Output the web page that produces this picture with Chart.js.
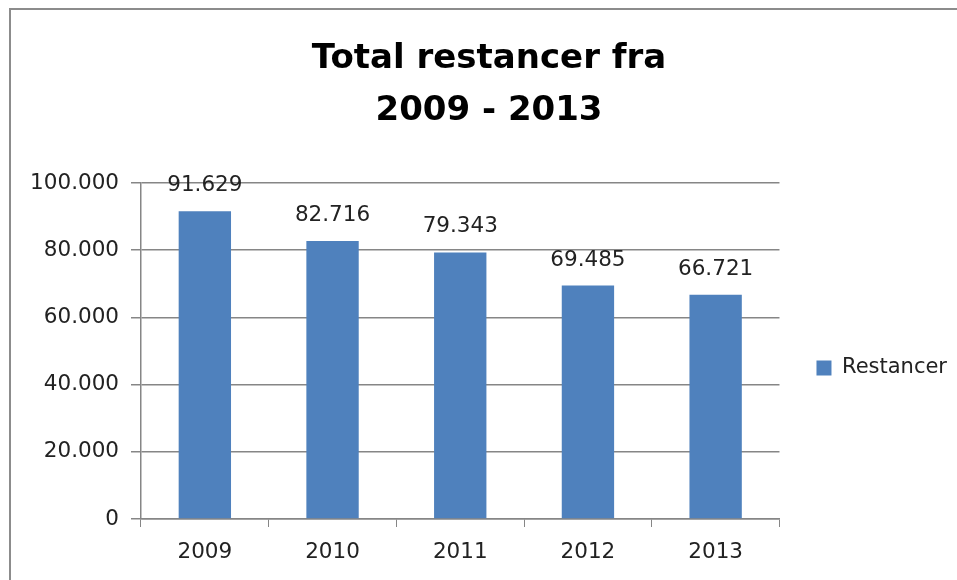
<!DOCTYPE html>
<html>
<head>
<meta charset="utf-8">
<script src="https://cdn.jsdelivr.net/npm/chart.js@4.4.1/dist/chart.umd.min.js"></script>
<style>
  html, body { margin: 0; padding: 0; background: #fff; overflow: hidden; width: 957px; height: 580px; }
  #frame {
    position: absolute; left: 9px; top: 8px; width: 1200px; height: 800px;
    border-left: 2px solid #8c8c8c; border-top: 2px solid #8c8c8c;
  }
  #wrap { position: absolute; left: 0; top: 0; width: 957px; height: 580px; }
</style>
</head>
<body>
<div id="frame"></div>
<div id="wrap"><canvas id="chart"></canvas></div>
<script>
const years = ["2009", "2010", "2011", "2012", "2013"];
const restancer = [91629, 82716, 79343, 69485, 66721];
const seriesName = "Restancer";
const titleLines = ["Total restancer fra", "2009 - 2013"];

const FONT = "'DejaVu Sans'";

// danish style thousands separator
function fmt(v) {
  return String(Math.round(v)).replace(/\B(?=(\d{3})+(?!\d))/g, ".");
}

const barLabels = {
  id: "barLabels",
  afterDatasetsDraw(chart) {
    const ctx = chart.ctx;
    ctx.save();
    ctx.font = "21.5px " + FONT;
    ctx.fillStyle = "#222";
    ctx.textAlign = "center";
    ctx.textBaseline = "alphabetic";
    chart.getDatasetMeta(0).data.forEach((bar, i) => {
      ctx.fillText(fmt(restancer[i]), bar.x, bar.y - 20);
    });
    ctx.restore();
  }
};

new Chart(document.getElementById("chart"), {
  type: "bar",
  data: {
    labels: years,
    datasets: [{
      label: seriesName,
      data: restancer,
      backgroundColor: "#4f81bd",
      borderWidth: 0,
      barPercentage: 0.41,
      categoryPercentage: 1
    }]
  },
  options: {
    responsive: true,
    maintainAspectRatio: false,
    animation: false,
    layout: { padding: { left: 21, right: 0, top: 0, bottom: 0 } },
    plugins: {
      title: {
        display: true,
        text: titleLines,
        color: "#000",
        font: { family: FONT, size: 34, weight: "bold", lineHeight: 1.53 },
        padding: { top: 33, bottom: 46 }
      },
      legend: {
        position: "right",
        fullSize: false,
        title: {
          display: true,
          text: " ",
          color: "rgba(0,0,0,0)",
          font: { size: 10, lineHeight: 1.2 },
          padding: 11
        },
        labels: {
          color: "#222",
          font: { family: FONT, size: 21 },
          boxWidth: 15,
          boxHeight: 15,
          padding: 37
        }
      },
      tooltip: { enabled: false }
    },
    scales: {
      x: {
        grid: {
          offset: true,
          drawOnChartArea: false,
          drawTicks: true,
          tickLength: 8,
          color: "#868686"
        },
        border: { color: "#868686", width: 1.5 },
        ticks: {
          color: "#222",
          font: { family: FONT, size: 21.5 },
          padding: 13
        },
        afterFit(scale) { scale.height = 61; }
      },
      y: {
        min: 0,
        max: 100000,
        ticks: {
          stepSize: 20000,
          color: "#222",
          font: { family: FONT, size: 21.5 },
          padding: 12,
          callback: v => fmt(v)
        },
        grid: {
          color: "#868686",
          lineWidth: 1.5,
          tickLength: 10
        },
        border: { color: "#868686", width: 1.5 },
        afterFit(scale) { scale.width = 120; }
      }
    }
  },
  plugins: [barLabels]
});
</script>
</body>
</html>
